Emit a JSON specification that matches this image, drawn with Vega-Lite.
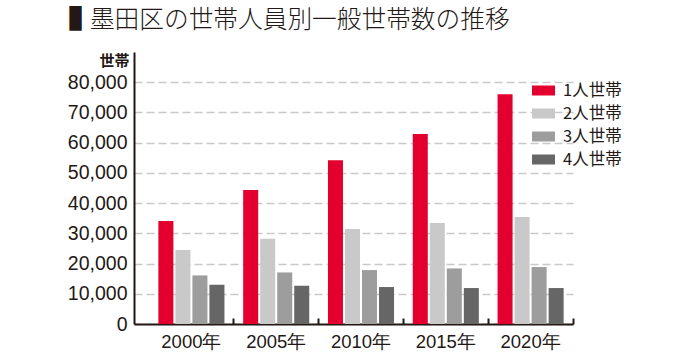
{
  "$schema": "https://vega.github.io/schema/vega-lite/v6.json",
  "width": 439,
  "height": 272,
  "autosize": "none",
  "padding": {"left": 134, "top": 52, "right": 117, "bottom": 34},
  "background": "white",
  "config": {"view": {"stroke": null}, "font": "Liberation Sans"},
  "title": {
    "text": "▐\u2004墨田区の世帯人員別一般世帯数の推移",
    "anchor": "start",
    "frame": "group",
    "font": "Noto Sans CJK JP",
    "fontSize": 24.7,
    "fontWeight": 300,
    "color": "#231815",
    "dx": -77,
    "offset": 19
  },
  "data": {
    "values": [
      {"year": "2000年", "type": "1人世帯", "value": 34050},
      {"year": "2000年", "type": "2人世帯", "value": 24460},
      {"year": "2000年", "type": "3人世帯", "value": 16070},
      {"year": "2000年", "type": "4人世帯", "value": 12990},
      {"year": "2005年", "type": "1人世帯", "value": 44300},
      {"year": "2005年", "type": "2人世帯", "value": 28200},
      {"year": "2005年", "type": "3人世帯", "value": 17060},
      {"year": "2005年", "type": "4人世帯", "value": 12660},
      {"year": "2010年", "type": "1人世帯", "value": 54210},
      {"year": "2010年", "type": "2人世帯", "value": 31400},
      {"year": "2010年", "type": "3人世帯", "value": 17850},
      {"year": "2010年", "type": "4人世帯", "value": 12230},
      {"year": "2015年", "type": "1人世帯", "value": 62900},
      {"year": "2015年", "type": "2人世帯", "value": 33390},
      {"year": "2015年", "type": "3人世帯", "value": 18380},
      {"year": "2015年", "type": "4人世帯", "value": 11900},
      {"year": "2020年", "type": "1人世帯", "value": 76030},
      {"year": "2020年", "type": "2人世帯", "value": 35370},
      {"year": "2020年", "type": "3人世帯", "value": 18840},
      {"year": "2020年", "type": "4人世帯", "value": 11900}
    ]
  },
  "mark": {"type": "bar"},
  "encoding": {
    "x": {
      "field": "year",
      "type": "nominal",
      "sort": ["2000年", "2005年", "2010年", "2015年", "2020年"],
      "scale": {"paddingInner": 0, "paddingOuter": 0.0885, "align": 1},
      "axis": {
        "title": null,
        "labelAngle": 0,
        "bandPosition": 1,
        "tickSize": -6,
        "tickColor": "#231815",
        "tickWidth": 2,
        "domainColor": "#231815",
        "domainWidth": 2,
        "labelFontSize": 18.5,
        "labelColor": "#231815",
        "labelPadding": 14
      }
    },
    "y": {
      "field": "value",
      "type": "quantitative",
      "scale": {"domain": [0, 90000], "nice": false},
      "axis": {
        "values": [0, 10000, 20000, 30000, 40000, 50000, 60000, 70000, 80000],
        "format": ",.0f",
        "title": "世帯",
        "titleAngle": 0,
        "titleAlign": "right",
        "titleBaseline": "middle",
        "titleX": -5,
        "titleY": 8,
        "titleFont": "Noto Sans CJK JP",
        "titleFontSize": 15,
        "titleFontWeight": "bold",
        "titleColor": "#231815",
        "ticks": false,
        "labelPadding": 7,
        "labelFontSize": 19.5,
        "labelColor": "#231815",
        "grid": true,
        "gridDash": [8, 4],
        "gridColor": "#c9c9c9",
        "gridWidth": 1.5,
        "domainColor": "#231815",
        "domainWidth": 2
      }
    },
    "xOffset": {
      "field": "type",
      "type": "nominal",
      "sort": ["1人世帯", "2人世帯", "3人世帯", "4人世帯"],
      "scale": {"paddingInner": 0.118, "paddingOuter": 0.55}
    },
    "color": {
      "field": "type",
      "type": "nominal",
      "sort": ["1人世帯", "2人世帯", "3人世帯", "4人世帯"],
      "scale": {
        "domain": ["1人世帯", "2人世帯", "3人世帯", "4人世帯"],
        "range": ["#e4002e", "#c9c9c9", "#9d9d9d", "#666666"]
      },
      "legend": {
        "orient": "none",
        "legendX": 398,
        "legendY": 27,
        "title": null,
        "symbolType": "M-1,-0.435H1V0.435H-1Z",
        "symbolSize": 529,
        "symbolStrokeWidth": 0,
        "labelFont": "Noto Sans CJK JP",
        "labelFontSize": 16.5,
        "labelColor": "#231815",
        "labelOffset": 8,
        "rowPadding": 3
      }
    }
  }
}
